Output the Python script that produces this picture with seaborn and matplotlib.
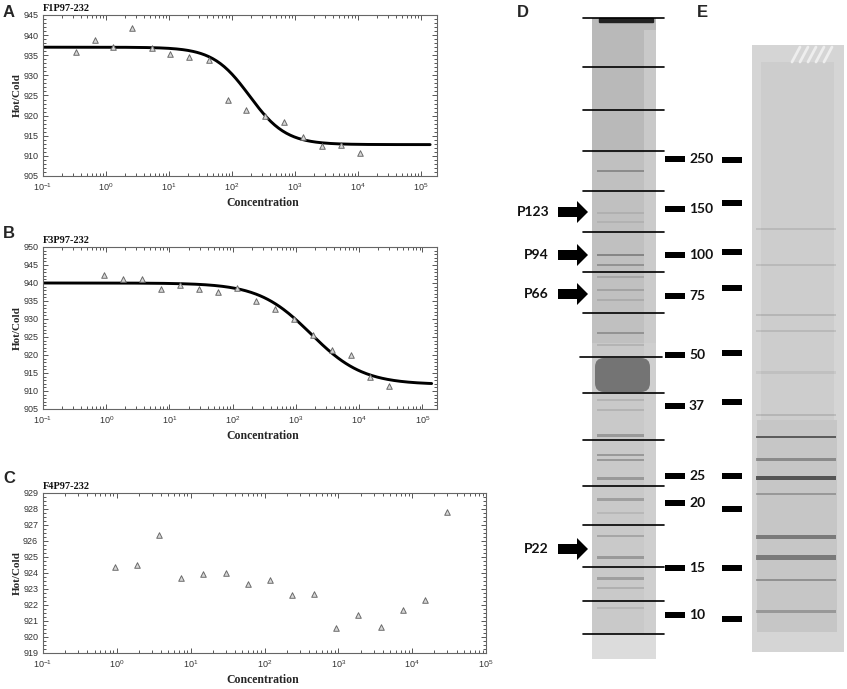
import numpy as np
import pandas as pd
import matplotlib
matplotlib.use("Agg")
import matplotlib.pyplot as plt
import seaborn as sns
from matplotlib.ticker import FixedLocator, MultipleLocator, LogFormatterSciNotation, NullFormatter
from matplotlib.patches import Rectangle, FancyArrow, FancyBboxPatch

# ---------------- data ----------------
conc_A = [0.33, 0.66, 1.3, 2.6, 5.3, 10.5, 21, 43, 85, 170, 340, 680, 1350, 2700, 5400, 10800]
hc_A = [935.9, 938.7, 937.0, 941.8, 936.7, 935.2, 934.5, 933.7, 924.0, 921.4, 919.8, 918.4, 914.7, 912.5, 912.6, 910.6]
fit_A = dict(top=937.0, bottom=912.8, ic50=190.0, hill=1.5, xmax=1.4e5)

conc_B = [0.93, 1.86, 3.7, 7.4, 14.8, 29.7, 59, 118, 236, 470, 940, 1860, 3770, 7500, 15000, 30000]
hc_B = [942.1, 941.1, 941.0, 938.2, 939.5, 938.4, 937.6, 938.7, 935.0, 932.9, 930.0, 925.5, 921.5, 919.9, 913.9, 911.4]
fit_B = dict(top=940.0, bottom=911.8, ic50=1720.0, hill=1.05, xmax=1.4e5)

conc_C = [0.93, 1.86, 3.7, 7.4, 14.8, 29.7, 59, 118, 236, 470, 940, 1860, 3770, 7500, 15000, 29500]
hc_C = [924.36, 924.47, 926.37, 923.66, 923.93, 924.01, 923.29, 923.55, 922.60, 922.66, 920.57, 921.34, 920.64, 921.71, 922.31, 927.8]

titles = ["F1P97-232", "F3P97-232", "F4P97-232"]
panel_letters = ["A", "B", "C"]
x_decades = [-1, 0, 1, 2, 3, 4, 5]

# gel D / E
mw_labels = ["250", "150", "100", "75", "50", "37", "25", "20", "15", "10"]
mw_y_D = [159, 209, 255, 296, 355, 406, 476, 503, 568, 615]
mw_y_E = [160, 203, 252, 288, 353, 402, 476, 509, 568, 619]
cut_lines_D = [18, 67, 110, 151, 191, 232, 272, 313, 357, 393, 440, 486, 525, 567, 601, 634]
protein_labels = ["P123", "P94", "P66", "P22"]
protein_y = [212, 255, 294, 549]
# (y, thickness, darkness)
bands_D = [(171, 2, 0.4), (213, 1.5, 0.12), (222, 1.5, 0.1), (255, 2.5, 0.45), (265, 2, 0.35),
           (277, 1.5, 0.2), (290, 2, 0.22), (300, 1.5, 0.15), (333, 2, 0.35), (345, 2, 0.15),
           (400, 2, 0.15), (410, 2, 0.15), (435, 3, 0.35), (455, 2, 0.35), (460, 2, 0.35),
           (478, 3, 0.35), (499, 3, 0.3), (513, 2, 0.12), (536, 2.5, 0.25), (557, 3, 0.35),
           (578, 3, 0.3), (588, 2, 0.18), (608, 2, 0.12)]
bands_E = [(229, 1.5, 0.12), (265, 2, 0.12), (315, 2, 0.15), (331, 1.5, 0.12), (372, 3, 0.08),
           (415, 1.5, 0.15), (437, 1.8, 0.7), (459, 3, 0.4), (478, 4, 0.75), (494, 2, 0.3),
           (537, 4, 0.5), (557, 5, 0.5), (580, 2.5, 0.35), (611, 3, 0.3)]

# ---------------- style ----------------
sns.set_style("ticks")
plt.rcParams["font.family"] = ["Liberation Sans", "DejaVu Sans"]
plt.rcParams["mathtext.fontset"] = "custom"
plt.rcParams["mathtext.rm"] = "Liberation Sans"
plt.rcParams["mathtext.it"] = "Liberation Sans:italic"
plt.rcParams["mathtext.bf"] = "Liberation Sans:bold"

W, H = 847, 689
fig = plt.figure(figsize=(W / 100, H / 100), dpi=100)
fig.patch.set_facecolor("white")


def px_axes(l, t, r, b):
    return fig.add_axes([l / W, 1 - b / H, (r - l) / W, (b - t) / H])


def four_pl(x, p):
    return p["bottom"] + (p["top"] - p["bottom"]) / (1 + (x / p["ic50"]) ** p["hill"])


def style_axes(ax, ylim, ymajor, yminor, xmax):
    ax.set_xscale("log")
    ax.set_xlim(0.1, xmax)
    ax.set_ylim(*ylim)
    majors = [10.0 ** k for k in x_decades if 10.0 ** k <= xmax * 1.0001]
    minors = [m * 10.0 ** k for k in x_decades for m in range(2, 10) if m * 10.0 ** k <= xmax]
    ax.xaxis.set_major_locator(FixedLocator(majors))
    ax.xaxis.set_minor_locator(FixedLocator(minors))
    ax.xaxis.set_major_formatter(LogFormatterSciNotation())
    ax.xaxis.set_minor_formatter(NullFormatter())
    ax.yaxis.set_major_locator(MultipleLocator(ymajor))
    ax.yaxis.set_minor_locator(MultipleLocator(yminor))
    ax.tick_params(which="both", direction="in", top=True, right=True, colors="#555555",
                   labelcolor="#333333", labelsize=6.5, width=0.7)
    ax.tick_params(which="major", length=3.5)
    ax.tick_params(which="minor", length=2)
    for s in ax.spines.values():
        s.set_color("#666666")
        s.set_linewidth(0.8)
    ax.set_xlabel("Concentration", fontfamily="Liberation Serif", fontweight="bold", fontsize=8.5)
    ax.set_ylabel("Hot/Cold", fontfamily="Liberation Serif", fontweight="bold", fontsize=8)


panels = [
    dict(box=(43, 15, 437, 176), conc=conc_A, hc=hc_A, fit=fit_A, ylim=(905, 945), ym=5, ymin=1, xmax=1.8e5),
    dict(box=(43, 247, 437, 409), conc=conc_B, hc=hc_B, fit=fit_B, ylim=(905, 950), ym=5, ymin=1, xmax=1.7e5),
    dict(box=(43, 492.5, 486, 653), conc=conc_C, hc=hc_C, fit=None, ylim=(919, 929), ym=1, ymin=0.25, xmax=1e5),
]
letter_y = [5, 226, 471]

for i, p in enumerate(panels):
    l, t, r, b = p["box"]
    ax = px_axes(l, t, r, b)
    if p["fit"] is not None:
        xs = np.logspace(-1, np.log10(p["fit"]["xmax"]), 300)
        curve = pd.DataFrame({"x": xs, "y": four_pl(xs, p["fit"])})
        sns.lineplot(data=curve, x="x", y="y", ax=ax, color="black", linewidth=2.1, zorder=2)
    df = pd.DataFrame({"x": p["conc"], "y": p["hc"]})
    sns.scatterplot(data=df, x="x", y="y", ax=ax, marker="^", s=16, color="#d8d8d8",
                    edgecolor="#6a6a6a", linewidth=0.7, zorder=3)
    style_axes(ax, p["ylim"], p["ym"], p["ymin"], p["xmax"])
    ax.xaxis.set_label_coords((263 - l) / (r - l), -27.0 / (b - t))
    ax.yaxis.set_label_coords(-(l - 17) / (r - l), 0.5)
    ax.xaxis.label.set_va("center")
    ax.yaxis.label.set_va("center")
    ax.text(0.0, 1.012, titles[i], transform=ax.transAxes, ha="left", va="bottom",
            fontfamily="Liberation Serif", fontweight="bold", fontsize=7.5, color="#111111")
    fig.text(3 / W, 1 - letter_y[i] / H, panel_letters[i], ha="left", va="top",
             fontsize=12, fontweight="bold", fontfamily="Liberation Sans")

# ---------------- gels (pixel coordinates) ----------------
g = fig.add_axes([0, 0, 1, 1])
g.set_xlim(0, W)
g.set_ylim(H, 0)
g.axis("off")
g.patch.set_alpha(0)

# lane D
D_x0, D_x1 = 592, 656
g.add_patch(Rectangle((D_x0, 18), D_x1 - D_x0, 641, color="#c9c9c9", lw=0, zorder=1))
g.add_patch(Rectangle((D_x0, 18), D_x1 - D_x0, 135, color="#b9b9b9", lw=0, zorder=1.1))
g.add_patch(Rectangle((D_x0, 153), D_x1 - D_x0, 190, color="#c0c0c0", lw=0, zorder=1.1))
g.add_patch(Rectangle((D_x0, 634), D_x1 - D_x0, 25, color="#dcdcdc", lw=0, zorder=1.1))
g.add_patch(Rectangle((644, 30), D_x1 - 644, 604, color="#d4d4d4", lw=0, zorder=1.2, alpha=0.6))
g.add_patch(FancyBboxPatch((600, 19), 53, 3, boxstyle="round,pad=1.2", color="#222222", lw=0, zorder=2))
for y, th, dk in bands_D:
    g.add_patch(Rectangle((597, y - th / 2), 47, th, color="#404040", alpha=dk, lw=0, zorder=2))
g.add_patch(FancyBboxPatch((597, 360), 51, 30, boxstyle="round,pad=2,rounding_size=9",
                           color="#747474", lw=0, zorder=2))
for k, y in enumerate(cut_lines_D):
    x0, x1 = (580, 662) if k == 8 else (583, 664)
    g.plot([x0, x1], [y, y], color="black", lw=1.2, zorder=4)

# arrows + protein labels
for lab, y in zip(protein_labels, protein_y):
    g.add_patch(FancyArrow(558, y, 30, 0, width=10, head_width=22, head_length=11,
                           length_includes_head=True, color="black", lw=0, zorder=5))
    g.text(549, y, lab, ha="right", va="center", fontsize=10, fontweight="bold",
           fontfamily="Lato", color="#111111")

# MW markers
for lab, yd, ye in zip(mw_labels, mw_y_D, mw_y_E):
    g.add_patch(Rectangle((665, yd - 2.8), 20, 5.6, color="black", lw=0, zorder=5))
    g.add_patch(Rectangle((722, ye - 2.8), 20, 5.6, color="black", lw=0, zorder=5))
    g.text(689, yd, lab, ha="left", va="center", fontsize=10, fontweight="bold",
           fontfamily="Lato", color="#111111")

# lane E
g.add_patch(Rectangle((752, 45), 92, 607, color="#d5d5d5", lw=0, zorder=1))
g.add_patch(Rectangle((761, 62), 73, 570, color="#cdcdcd", lw=0, zorder=1.1))
g.add_patch(Rectangle((757, 420), 80, 212, color="#c6c6c6", lw=0, zorder=1.15))
for y, th, dk in bands_E:
    g.add_patch(Rectangle((756, y - th / 2), 80, th, color="#303030", alpha=dk, lw=0, zorder=2))
for k in range(5):
    g.plot([792 + 8 * k, 800 + 8 * k], [62, 47], color="#eeeeee", lw=2, zorder=2)

fig.text(517 / W, 1 - 5 / H, "D", ha="left", va="top", fontsize=12, fontweight="bold")
fig.text(697 / W, 1 - 5 / H, "E", ha="left", va="top", fontsize=12, fontweight="bold")

fig.savefig("out.png", dpi=100, facecolor="white")
